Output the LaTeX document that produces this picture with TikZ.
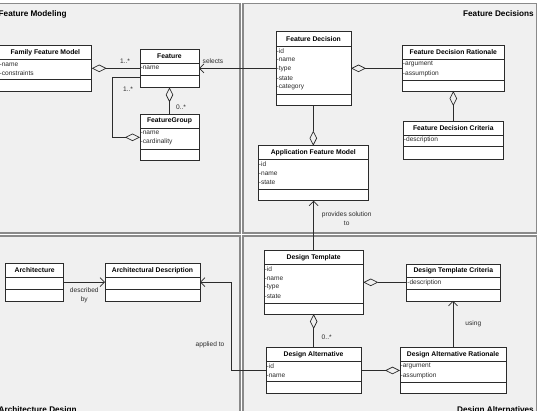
\documentclass[tikz,border=0pt]{standalone}
\usepackage{fontspec}
\setmainfont{Liberation Sans}
\usetikzlibrary{arrows.meta,calc}
\definecolor{panelfill}{HTML}{F0F0F0}
\definecolor{panelline}{HTML}{8A8A8A}
\definecolor{ink}{HTML}{2B2B2B}
\tikzset{
 panel/.style={fill=panelfill, draw=panelline, line width=1.4pt},
 classbox/.style={draw=ink, fill=white, line width=0.8pt, inner sep=0pt, outer sep=0pt, rectangle},
 classline/.style={draw=ink, line width=0.8pt},
 classtitle/.style={font=\fontsize{6.8}{8}\selectfont\bfseries, text=black, inner sep=0pt},
 attr/.style={font=\fontsize{6.6}{8}\selectfont, text=ink, inner sep=0pt, anchor=west},
 lbl/.style={font=\fontsize{6.6}{9.3}\selectfont, text=ink, inner sep=0pt, align=center},
 ptitle/.style={font=\fontsize{8.2}{10}\selectfont\bfseries, text=black, inner sep=0pt},
 conn/.style={draw=ink, line width=0.7pt},
 agg/.style={conn, arrows={Diamond[open, length=15pt, width=7.5pt]-}},
 nav/.style={conn, arrows={-Straight Barb[length=4.5pt, width=9pt]}},
}
% name, x1, y1, x2, yh, ya, y2, title
\newcommand\umlbox[8]{%
  \node[classbox, anchor=north west, minimum width={(#4-#2)*1pt}, minimum height={(#7-#3)*1pt}] (#1) at (#2,#3) {};
  \draw[classline] (#2,#5) -- (#4,#5);
  \draw[classline] (#2,#6) -- (#4,#6);
  \node[classtitle] (#1-t) at ({(#2+#4)/2},{(#3+#5)/2}) {#8};
}
% name, x1, yh, attrs
\newcommand\umlattrs[4]{%
  \foreach \a [count=\i] in {#4} {
    \node[attr] (#1-a\i) at ({#2+0.4},{#3+5+(\i-1)*9.1}) {\a};
  }
}
\begin{document}
\begin{tikzpicture}[x=1pt,y=-1pt]
\useasboundingbox[fill=white] (0,0) rectangle (539,411);
% panels
\path[panel] (-5,3.5) rectangle (240,233);
\path[panel] (243,3.5) rectangle (536.5,233);
\path[panel] (-5,236) rectangle (240,425);
\path[panel] (243,236) rectangle (536.5,425);
\node[ptitle, anchor=west] (t1) at (-1.5,14) {Feature Modeling};
\node[ptitle, anchor=east] (t2) at (534,14) {Feature Decisions};
\node[ptitle, anchor=west] (t3) at (-1.5,410.5) {Architecture Design};
\node[ptitle, anchor=east] (t4) at (534,410.5) {Design Alternatives};
% classes
\umlbox{ffm}{-1}{45.7}{91.7}{59.3}{79.3}{91}{Family Feature Model}
\umlattrs{ffm}{-1}{59.3}{-name,-constraints}
\umlbox{feat}{140}{49.3}{199}{63}{75.3}{87.3}{Feature}
\umlattrs{feat}{140}{63}{-name}
\umlbox{fg}{140}{114.3}{199}{128}{149}{160.3}{FeatureGroup}
\umlattrs{fg}{140}{128}{-name,-cardinality}
\umlbox{fd}{276}{31.7}{351}{46}{94}{105}{Feature Decision}
\umlattrs{fd}{276}{46}{-id,-name,-type,-state,-category}
\umlbox{fdr}{402.3}{45.7}{504.3}{59.3}{80}{91}{Feature Decision Rationale}
\umlattrs{fdr}{402.3}{59.3}{-argument,-assumption}
\umlbox{fdc}{403.3}{121.7}{503.3}{135}{146.7}{159}{Feature Decision Criteria}
\umlattrs{fdc}{403.3}{135}{-description}
\umlbox{afm}{258.3}{145.7}{368.3}{159.3}{189}{200.7}{Application Feature Model}
\umlattrs{afm}{258.3}{159.3}{-id,-name,-state}
\umlbox{dt}{264}{250.7}{363.3}{264.3}{303.3}{314}{Design Template}
\umlattrs{dt}{264}{264.3}{-id,-name,-type,-state}
\umlbox{dtc}{406.7}{264}{500}{277.7}{289.3}{301}{Design Template Criteria}
\umlattrs{dtc}{406.7}{277.7}{-description}
\umlbox{da}{266}{347.7}{361}{361.3}{381.7}{393.3}{Design Alternative}
\umlattrs{da}{266}{361.3}{-id,-name}
\umlbox{dar}{400}{347.7}{506}{361.3}{382.3}{393.3}{Design Alternative Rationale}
\umlattrs{dar}{400}{361.3}{-argument,-assumption}
\umlbox{arch}{5.7}{263.3}{63.7}{277.3}{289.3}{301}{Architecture}
\umlbox{ad}{105}{263.3}{200}{277.3}{289.3}{301}{Architectural Description}
% connectors
\draw[agg] (ffm.east) -- (ffm.east -| feat.west);
\draw[agg] (feat.south) -- (feat.south |- fg.north);
\coordinate (featin) at ([yshift=-9pt]feat.west);
\coordinate (fgturn) at (112.3,0);
\draw[agg] (fg.west) -| (fgturn |- featin) -- (featin);
\draw[nav] (fd.west) -- (fd.west -| feat.east);
\draw[agg] (fd.east) -- (fd.east -| fdr.west);
\draw[agg] (fdr.south) -- (fdr.south |- fdc.north);
\draw[agg] (afm.north) -- (afm.north |- fd.south);
\draw[nav] (dt.north) -- (dt.north |- afm.south);
\draw[agg] (dt.east) -- (dt.east -| dtc.west);
\draw[agg] (dt.south) -- (dt.south |- da.north);
\draw[agg] (dar.west) -- (dar.west -| da.east);
\draw[nav] (dar.north) -- (dar.north |- dtc.south);
\coordinate (daturn) at (231.7,0);
\draw[nav] (da.west) -| (daturn |- ad.east) -- (ad.east);
\draw[nav] (arch.east) -- (arch.east -| ad.west);
% labels
\node[lbl] (m1) at (125,61) {1..*};
\node[lbl] (m2) at (128,89) {1..*};
\node[lbl] (m3) at (181,107) {0..*};
\node[lbl] (m4) at (326.7,337.3) {0..*};
\node[lbl] (l1) at (213,61) {selects};
\node[lbl] (l2) at (346.7,218.4) {provides solution\\to};
\node[lbl] (l3) at (473.3,323.3) {using};
\node[lbl] (l4) at (210,344.3) {applied to};
\node[lbl] (l5) at (84.3,295.4) {described\\by};
\end{tikzpicture}
\end{document}
